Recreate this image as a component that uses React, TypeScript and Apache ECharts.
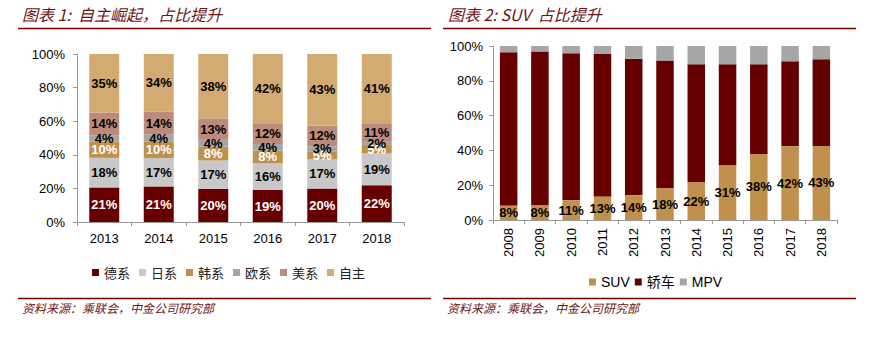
import React, { useEffect, useRef } from "react";
import * as echarts from "echarts";

const leftYears = ["2013", "2014", "2015", "2016", "2017", "2018"];
const deXi = [20.6, 21.2, 19.8, 19.0, 19.9, 21.9];
const riXi = [17.6, 16.9, 16.8, 16.0, 17.4, 18.9];
const hanXi = [9.6, 9.6, 8.2, 7.6, 4.8, 5.0];
const ouXi = [3.8, 4.3, 4.1, 3.8, 3.0, 2.4];
const meiXi = [13.6, 13.8, 12.8, 12.0, 12.2, 10.6];
const ziZhu = [34.8, 34.2, 38.3, 41.6, 42.7, 41.2];

const rightYears = ["2008", "2009", "2010", "2011", "2012", "2013", "2014", "2015", "2016", "2017", "2018"];
const suv = [8.2, 8.4, 11.3, 13.4, 14.3, 18.3, 21.8, 31.3, 38.0, 42.4, 42.6];
const jiaoChe = [88.2, 88.5, 84.5, 82.0, 78.4, 73.3, 67.7, 58.2, 51.5, 48.8, 49.8];
const mpv = [3.6, 3.1, 4.2, 4.6, 7.3, 8.4, 10.5, 10.5, 10.5, 8.8, 7.6];

const yTicks = [0, 20, 40, 60, 80, 100];

const C_DARK = "#660000";
const C_LGRAY = "#C8C8C8";
const C_TAN = "#C0904D";
const C_GRAY = "#A6A6A6";
const C_ROSE = "#BC8B7C";
const C_LTAN = "#D4AA73";
const TITLE_RED = "#6E1414";

const FONT = "Liberation Sans, Arial, Noto Sans CJK SC, sans-serif";
const CJK = "Noto Sans CJK SC, sans-serif";

export default function App() {
  const ref = useRef<HTMLDivElement>(null);
  useEffect(() => {
    if (!ref.current) return;
    const chart = echarts.init(ref.current, null, { renderer: "svg" });
    const pct = (p: any) => Math.round(p.value) + "%";
    const lbl = (color: string) => ({
      show: true,
      position: "inside",
      formatter: pct,
      color,
      fontWeight: "bold",
      fontSize: 13,
      fontFamily: FONT,
    });
    const yAxisBase = (gi: number, margin: number) => ({
      type: "value",
      gridIndex: gi,
      min: yTicks[0],
      max: yTicks[yTicks.length - 1],
      interval: 20,
      axisLine: { show: true, lineStyle: { color: "#999999", width: 1 } },
      axisTick: { show: true, length: 4, lineStyle: { color: "#999999" } },
      splitLine: { show: false },
      axisLabel: { formatter: "{value}%", color: "#000", fontSize: 13, fontFamily: FONT, margin },
    });
    const leftSeries = [
      { name: "德系", data: deXi, color: C_DARK, lc: "#fff" },
      { name: "日系", data: riXi, color: C_LGRAY, lc: "#000" },
      { name: "韩系", data: hanXi, color: C_TAN, lc: "#fff" },
      { name: "欧系", data: ouXi, color: C_GRAY, lc: "#000" },
      { name: "美系", data: meiXi, color: C_ROSE, lc: "#000" },
      { name: "自主", data: ziZhu, color: C_LTAN, lc: "#000" },
    ].map((s) => ({
      type: "bar",
      name: s.name,
      stack: "L",
      xAxisIndex: 0,
      yAxisIndex: 0,
      data: s.data,
      barCategoryGap: "45%",
      itemStyle: { color: s.color },
      label: lbl(s.lc),
    }));
    const rightSeries: any[] = [
      {
        type: "bar",
        name: "SUV",
        stack: "R",
        xAxisIndex: 1,
        yAxisIndex: 1,
        data: suv,
        barCategoryGap: "44%",
        itemStyle: { color: C_TAN },
        label: lbl("#000"),
        z: 3,
      },
      {
        type: "bar",
        name: "轿车",
        stack: "R",
        xAxisIndex: 1,
        yAxisIndex: 1,
        data: jiaoChe,
        barCategoryGap: "44%",
        itemStyle: { color: C_DARK },
        z: 2,
      },
      {
        type: "bar",
        name: "MPV",
        stack: "R",
        xAxisIndex: 1,
        yAxisIndex: 1,
        data: mpv,
        barCategoryGap: "44%",
        itemStyle: { color: C_GRAY },
        z: 2,
      },
    ];
    chart.setOption({
      animation: false,
      backgroundColor: "#fff",
      grid: [
        { left: 77, top: 54, width: 327, height: 168 },
        { left: 493, top: 46, width: 344, height: 174 },
      ],
      xAxis: [
        {
          type: "category",
          gridIndex: 0,
          data: leftYears,
          axisLine: { lineStyle: { color: "#999999" } },
          axisTick: { show: true, length: 4, lineStyle: { color: "#999999" } },
          axisLabel: { color: "#000", fontSize: 13, fontFamily: FONT, margin: 10 },
        },
        {
          type: "category",
          gridIndex: 1,
          data: rightYears,
          axisLine: { lineStyle: { color: "#999999" } },
          axisTick: { show: true, length: 4, lineStyle: { color: "#999999" } },
          axisLabel: { color: "#000", fontSize: 13, fontFamily: FONT, margin: 8, rotate: 90 },
        },
      ],
      yAxis: [yAxisBase(0, 12), yAxisBase(1, 10)],
      legend: [
        {
          data: ["德系", "日系", "韩系", "欧系", "美系", "自主"],
          left: 87,
          top: 261,
          icon: "rect",
          itemWidth: 7,
          itemHeight: 7,
          itemGap: 9,
          textStyle: { color: "#222", fontSize: 13, fontFamily: CJK },
        },
        {
          data: ["SUV", "轿车", "MPV"],
          left: 584,
          top: 270,
          icon: "rect",
          itemWidth: 7,
          itemHeight: 7,
          itemGap: 5,
          textStyle: { color: "#000", fontSize: 14, fontFamily: FONT },
        },
      ],
      graphic: [
        {
          type: "text",
          left: 22,
          top: 6,
          style: {
            text: "图表 1:  自主崛起，占比提升",
            fill: TITLE_RED,
            font: "italic 16px " + CJK,
          },
        },
        {
          type: "text",
          left: 448,
          top: 6,
          style: {
            text: "图表 2: SUV  占比提升",
            fill: TITLE_RED,
            font: "italic 16px " + CJK,
          },
        },
        { type: "line", shape: { x1: 18, y1: 28.5, x2: 431, y2: 28.5 }, style: { stroke: "#7A0000", lineWidth: 1.5 } },
        { type: "line", shape: { x1: 443, y1: 28.5, x2: 856, y2: 28.5 }, style: { stroke: "#7A0000", lineWidth: 1.5 } },
        { type: "line", shape: { x1: 18, y1: 298.5, x2: 431, y2: 298.5 }, style: { stroke: "#7A0000", lineWidth: 1.5 } },
        { type: "line", shape: { x1: 443, y1: 298.5, x2: 856, y2: 298.5 }, style: { stroke: "#7A0000", lineWidth: 1.5 } },
        {
          type: "text",
          left: 22,
          top: 301,
          style: { text: "资料来源：乘联会，中金公司研究部", fill: TITLE_RED, font: "italic 12px " + CJK },
        },
        {
          type: "text",
          left: 447,
          top: 301,
          style: { text: "资料来源：乘联会，中金公司研究部", fill: TITLE_RED, font: "italic 12px " + CJK },
        },
      ],
      series: [...leftSeries, ...rightSeries],
    });
    return () => chart.dispose();
  }, []);
  return (
    <div
      ref={ref}
      style={{ position: "absolute", left: 0, top: 0, width: 893, height: 340, background: "#fff" }}
    />
  );
}
